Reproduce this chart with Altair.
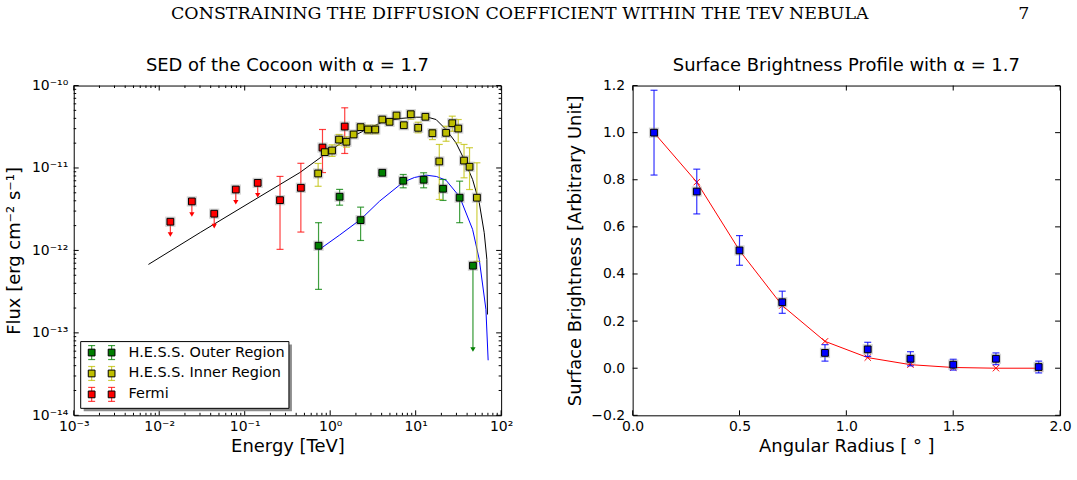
import altair as alt
import pandas as pd

# ---------------- text ----------------
header_text = "CONSTRAINING THE DIFFUSION COEFFICIENT WITHIN THE TEV NEBULA"
page_number = "7"
left_title = "SED of the Cocoon with α = 1.7"
right_title = "Surface Brightness Profile with α = 1.7"
left_xlabel = "Energy [TeV]"
left_ylabel = "Flux [erg cm⁻² s⁻¹]"
right_xlabel = "Angular Radius [ ° ]"
right_ylabel = "Surface Brightness [Arbitrary Unit]"

# ---------------- left panel data ----------------
fermi_E = [0.0135, 0.0241, 0.044, 0.0787, 0.142, 0.259, 0.454, 0.813, 1.48]
fermi_F = [2.23e-12, 3.93e-12, 2.79e-12, 5.48e-12, 6.6e-12, 4.07e-12, 5.75e-12, 1.77e-11, 3.18e-11]
fermi_lo = [1.56e-12, 2.73e-12, 1.97e-12, 3.85e-12, 4.68e-12, 1.03e-12, 1.67e-12, 8.8e-12, 1.5e-11]
fermi_hi = [2.23e-12, 3.93e-12, 2.79e-12, 5.48e-12, 6.6e-12, 7.9e-12, 1.14e-11, 2.93e-11, 5.37e-11]
fermi_ul = [True, True, True, True, True, False, False, False, False]

outer_E = [0.731, 1.29, 2.27, 4.07, 7.15, 12.4, 20.9, 32.7, 46.8]
outer_F = [1.14e-12, 4.48e-12, 2.33e-12, 8.75e-12, 7.0e-12, 7.2e-12, 5.6e-12, 4.36e-12, 6.53e-13]
outer_lo = [3.37e-13, 3.54e-12, 1.32e-12, 8.75e-12, 5.75e-12, 5.75e-12, 4.04e-12, 2.17e-12, 6.3e-14]
outer_hi = [2.17e-12, 5.5e-12, 3.35e-12, 8.75e-12, 8.34e-12, 8.75e-12, 7.26e-12, 6.92e-12, 6.53e-13]
outer_ul = [False, False, False, False, False, False, False, False, True]

inner_E = [0.723, 0.865, 1.052, 1.27, 1.55, 1.88, 2.27, 2.77, 3.37, 4.07, 4.95, 5.97,
           7.27, 8.77, 10.7, 13.0, 15.7, 18.9, 22.7, 26.8, 31.5, 36.8, 42.7, 52.1]
inner_F = [8.58e-12, 1.556e-11, 1.63e-11, 2.21e-11, 2.08e-11, 2.55e-11, 3.13e-11, 2.93e-11,
           2.93e-11, 3.87e-11, 3.63e-11, 4.33e-11, 3.3e-11, 4.49e-11, 3.07e-11, 4.18e-11,
           2.64e-11, 1.2e-11, 2.67e-11, 3.49e-11, 3.01e-11, 1.23e-11, 1.035e-11, 4.36e-12]
inner_lo = [6.0e-12, 1.45e-11, 1.38e-11, 1.89e-11, 1.79e-11, 2.35e-11, 2.9e-11, 2.6e-11,
            2.6e-11, 3.6e-11, 3.38e-11, 4.05e-11, 3.08e-11, 3.9e-11, 2.67e-11, 3.9e-11,
            2.21e-11, 4.15e-12, 2.11e-11, 2.79e-11, 2.02e-11, 7.6e-12, 5.48e-12, 7.36e-13]
inner_hi = [1.135e-11, 1.67e-11, 1.91e-11, 2.55e-11, 2.39e-11, 2.77e-11, 3.38e-11, 3.3e-11,
            3.3e-11, 4.15e-11, 3.9e-11, 4.62e-11, 3.55e-11, 4.9e-11, 3.59e-11, 4.5e-11,
            2.93e-11, 1.93e-11, 3.21e-11, 4.25e-11, 3.87e-11, 1.93e-11, 1.76e-11, 1.156e-11]

# model curves
total_E = [0.00748, 0.0302, 0.1156, 0.4426, 0.865, 1.479, 2.649, 4.140, 6.471, 10.14,
           13.84, 17.34, 22.65, 29.65, 35.40, 46.35, 55.46, 63.39, 68.08, 69.18]
total_F = [6.76e-13, 1.65e-12, 3.82e-12, 8.81e-12, 1.46e-11, 2.15e-11, 2.93e-11, 3.63e-11,
           3.98e-11, 4.13e-11, 4.13e-11, 3.87e-11, 2.93e-11, 2.02e-11, 1.39e-11, 7.26e-12,
           3.79e-12, 1.64e-12, 7.78e-13, 1.67e-13]
outer_model_E = [0.731, 1.294, 2.275, 3.784, 7.145, 9.683, 13.24, 17.46, 22.65, 32.66,
                 46.35, 55.46, 66.37, 70.47]
outer_model_F = [1.01e-12, 1.54e-12, 2.38e-12, 3.96e-12, 6.73e-12, 7.67e-12, 8.18e-12,
                 7.89e-12, 7.11e-12, 4.48e-12, 1.80e-12, 7.78e-13, 1.93e-13, 4.65e-14]

# ---------------- right panel data ----------------
radius = [0.1, 0.3, 0.5, 0.7, 0.9, 1.1, 1.3, 1.5, 1.7, 1.9]
sb = [1.0, 0.75, 0.5, 0.28, 0.065, 0.08, 0.04, 0.015, 0.04, 0.005]
sb_err = [0.18, 0.095, 0.063, 0.047, 0.035, 0.03, 0.03, 0.023, 0.025, 0.025]
sb_model = [1.0, 0.79, 0.5, 0.266, 0.114, 0.045, 0.015, 0.003, 0.0, 0.0]

# ---------------- axes ticks ----------------
lx_major = [1e-3, 1e-2, 1e-1, 1.0, 1e1, 1e2]
lx_labels = ["10⁻³", "10⁻²", "10⁻¹", "10⁰", "10¹", "10²"]
ly_major = [1e-14, 1e-13, 1e-12, 1e-11, 1e-10]
ly_labels = ["10⁻¹⁴", "10⁻¹³", "10⁻¹²", "10⁻¹¹", "10⁻¹⁰"]
lx_minor = [k * 10.0 ** d for d in range(-3, 2) for k in range(2, 10)]
ly_minor = [k * 10.0 ** d for d in range(-14, -10) for k in range(2, 10)]
rx_major = [0.0, 0.5, 1.0, 1.5, 2.0]
ry_major = [-0.2, 0.0, 0.2, 0.4, 0.6, 0.8, 1.0, 1.2]

legend_labels = ["H.E.S.S. Outer Region", "H.E.S.S. Inner Region", "Fermi"]
series_names = ["Fermi", "Outer", "Inner"]
series_colors = ["#ff0000", "#007f00", "#bfbf00"]

W, H = 429, 331
MAJ, MIN = 5, 2.5
FONT = "DejaVu Sans"

# ---------------- build tables ----------------
rows = []
for name, E, F, lo, hi, ul in [
    ("Fermi", fermi_E, fermi_F, fermi_lo, fermi_hi, fermi_ul),
    ("Outer", outer_E, outer_F, outer_lo, outer_hi, outer_ul),
    ("Inner", inner_E, inner_F, inner_lo, inner_hi, [False] * len(inner_E)),
]:
    for e, f, l, h, u in zip(E, F, lo, hi, ul):
        rows.append({"series": name, "E": e, "F": f, "lo": l, "hi": h, "ul": u})
pts = pd.DataFrame(rows)
curve_total = pd.DataFrame({"E": total_E, "F": total_F})
curve_outer = pd.DataFrame({"E": outer_model_E, "F": outer_model_F})

xs = alt.Scale(type="log", domain=[1e-3, 1e2], nice=False)
ys = alt.Scale(type="log", domain=[1e-14, 1e-10], nice=False)
color_enc = alt.Color("series:N", scale=alt.Scale(domain=series_names, range=series_colors), legend=None)
fill_enc = alt.Fill("series:N", scale=alt.Scale(domain=series_names, range=series_colors), legend=None)

x_axis = alt.Axis(values=lx_major, title=left_xlabel, ticks=False, domain=False, grid=False,
                  labelExpr="%s[round(log(datum.value)/LN10)+3]" % str(lx_labels),
                  labelFlush=False, labelOverlap=False, labelPadding=4, titlePadding=4)
y_axis = alt.Axis(values=ly_major, title=left_ylabel, ticks=False, domain=False, grid=False,
                  labelExpr="%s[round(log(datum.value)/LN10)+14]" % str(ly_labels),
                  labelFlush=False, labelOverlap=False, labelPadding=6, titlePadding=8)

def X(f="E"):
    return alt.X(f + ":Q", scale=xs, axis=x_axis)

def Y(f="F"):
    return alt.Y(f + ":Q", scale=ys, axis=y_axis)

L = []
L.append(alt.Chart(curve_total).mark_line(color="black", strokeWidth=1).encode(x=X(), y=Y()))
L.append(alt.Chart(curve_outer).mark_line(color="#0000ff", strokeWidth=1).encode(x=X(), y=Y()))
b = alt.Chart(pts)
L.append(b.transform_filter("!datum.ul").mark_rule(strokeWidth=1.2, opacity=0.75).encode(
    x=X(), y=Y("lo"), y2="hi:Q", color=color_enc))
L.append(b.transform_filter("!datum.ul").mark_tick(orient="horizontal", size=7, thickness=1.2, opacity=0.75).encode(
    x=X(), y=Y("lo"), color=color_enc))
L.append(b.transform_filter("!datum.ul").mark_tick(orient="horizontal", size=7, thickness=1.2, opacity=0.75).encode(
    x=X(), y=Y("hi"), color=color_enc))
L.append(b.transform_filter("datum.ul").mark_rule(strokeWidth=1.2, opacity=0.8).encode(
    x=X(), y=Y("F"), y2="lo:Q", color=color_enc))
L.append(b.transform_filter("datum.ul").mark_point(shape="triangle-down", filled=True, size=28, opacity=1).encode(
    x=X(), y=Y("lo"), color=color_enc))
L.append(b.mark_point(shape="square", filled=True, color="#808080", opacity=0.35, size=105).encode(x=X(), y=Y()))
L.append(b.mark_square(size=46, stroke="black", strokeWidth=1, opacity=1).encode(x=X(), y=Y(), fill=fill_enc))

# inward ticks
for vals, size in [(lx_major, MAJ), (lx_minor, MIN)]:
    d = alt.Chart(pd.DataFrame({"E": vals}))
    L.append(d.mark_rule(color="black", strokeWidth=1).encode(x=X(), y=alt.value(H), y2=alt.value(H - size)))
    L.append(d.mark_rule(color="black", strokeWidth=1).encode(x=X(), y=alt.value(0), y2=alt.value(size)))
for vals, size in [(ly_major, MAJ), (ly_minor, MIN)]:
    d = alt.Chart(pd.DataFrame({"F": vals}))
    L.append(d.mark_rule(color="black", strokeWidth=1).encode(y=Y(), x=alt.value(0), x2=alt.value(size)))
    L.append(d.mark_rule(color="black", strokeWidth=1).encode(y=Y(), x=alt.value(W), x2=alt.value(W - size)))

# legend (manual, matplotlib style)
one = alt.Chart(pd.DataFrame({"a": [0]}))
L.append(one.mark_rect(color="#8c8c8c").encode(x=alt.value(10), x2=alt.value(219), y=alt.value(260), y2=alt.value(327)))
L.append(one.mark_rect(fill="white", stroke="black", strokeWidth=1).encode(
    x=alt.value(7), x2=alt.value(216), y=alt.value(257), y2=alt.value(324)))
leg_colors = ["#007f00", "#bfbf00", "#ff0000"]
for i, (lab, col) in enumerate(zip(legend_labels, leg_colors)):
    yy = 268 + i * 21
    L.append(alt.Chart(pd.DataFrame({"t": [lab]})).mark_text(
        align="left", baseline="middle", font=FONT, fontSize=14.5, color="black").encode(
        x=alt.value(55), y=alt.value(yy), text="t:N"))
    for sx in (18, 38):
        L.append(one.mark_rule(color=col, opacity=0.75, strokeWidth=1.2).encode(
            x=alt.value(sx), y=alt.value(yy - 7), y2=alt.value(yy + 7)))
        for cy in (yy - 7, yy + 7):
            L.append(one.mark_rule(color=col, opacity=0.75, strokeWidth=1.2).encode(
                x=alt.value(sx - 3.5), x2=alt.value(sx + 3.5), y=alt.value(cy)))
        L.append(one.mark_square(size=46, color=col, stroke="black", strokeWidth=1, opacity=1).encode(
            x=alt.value(sx), y=alt.value(yy)))

left = alt.layer(*L).properties(
    width=W, height=H,
    title=alt.Title(left_title, font=FONT, fontSize=18, fontWeight="normal", offset=4, color="black"))

# ---------------- right panel ----------------
rdf = pd.DataFrame({"r": radius, "sb": sb, "lo": [v - e for v, e in zip(sb, sb_err)],
                    "hi": [v + e for v, e in zip(sb, sb_err)], "m": sb_model})
rxs = alt.Scale(domain=[0, 2], nice=False)
rys = alt.Scale(domain=[-0.2, 1.2], nice=False)
rx_axis = alt.Axis(values=rx_major, title=right_xlabel, ticks=False, domain=False, grid=False, format=".1f",
                   labelFlush=False, labelOverlap=False, labelPadding=4, titlePadding=4)
ry_axis = alt.Axis(values=ry_major, title=right_ylabel, ticks=False, domain=False, grid=False, format=".1f",
                   labelFlush=False, labelOverlap=False, labelPadding=8, titlePadding=6)

def RX(f="r"):
    return alt.X(f + ":Q", scale=rxs, axis=rx_axis)

def RY(f="sb"):
    return alt.Y(f + ":Q", scale=rys, axis=ry_axis)

rb = alt.Chart(rdf)
R = []
R.append(rb.mark_line(color="#ff0000", strokeWidth=1).encode(x=RX(), y=RY("m")))
R.append(rb.mark_point(shape="M-1,-1L1,1M-1,1L1,-1", filled=False, color="#ff0000", strokeWidth=1, size=40, opacity=1).encode(
    x=RX(), y=RY("m")))
R.append(rb.mark_rule(color="#0000ff", strokeWidth=1.2, opacity=0.8).encode(x=RX(), y=RY("lo"), y2="hi:Q"))
R.append(rb.mark_tick(orient="horizontal", size=7, thickness=1.2, color="#0000ff", opacity=0.8).encode(x=RX(), y=RY("lo")))
R.append(rb.mark_tick(orient="horizontal", size=7, thickness=1.2, color="#0000ff", opacity=0.8).encode(x=RX(), y=RY("hi")))
R.append(rb.mark_point(shape="square", filled=True, color="#808080", opacity=0.35, size=105).encode(x=RX(), y=RY()))
R.append(rb.mark_square(size=46, color="#0000ff", stroke="black", strokeWidth=1, opacity=1).encode(x=RX(), y=RY()))
d = alt.Chart(pd.DataFrame({"r": rx_major}))
R.append(d.mark_rule(color="black", strokeWidth=1).encode(x=RX(), y=alt.value(H), y2=alt.value(H - MAJ)))
R.append(d.mark_rule(color="black", strokeWidth=1).encode(x=RX(), y=alt.value(0), y2=alt.value(MAJ)))
d = alt.Chart(pd.DataFrame({"sb": ry_major}))
R.append(d.mark_rule(color="black", strokeWidth=1).encode(y=RY(), x=alt.value(0), x2=alt.value(MAJ)))
R.append(d.mark_rule(color="black", strokeWidth=1).encode(y=RY(), x=alt.value(W), x2=alt.value(W - MAJ)))

right = alt.layer(*R).properties(
    width=W, height=H,
    title=alt.Title(right_title, font=FONT, fontSize=18, fontWeight="normal", offset=4, color="black"))

# page header: running title followed by the page number (non-breaking spaces keep the gap)
header_full = header_text + "\u00a0" * 27 + page_number

chart = alt.hconcat(left, right, spacing=52).properties(
    title=alt.Title(header_full, font="DejaVu Serif", fontSize=17.5, fontWeight="normal",
                    anchor="middle", dx=62, offset=34, color="black"),
    padding={"left": 5, "top": 4, "right": 5, "bottom": 5}
).configure_view(stroke="black", strokeWidth=1).configure_axis(
    labelFont=FONT, labelFontSize=14, labelColor="black", titleFont=FONT, titleFontSize=18,
    titleFontWeight="normal", titleColor="black"
)

chart.save("out.html", embed_options={"renderer": "svg", "actions": False})
